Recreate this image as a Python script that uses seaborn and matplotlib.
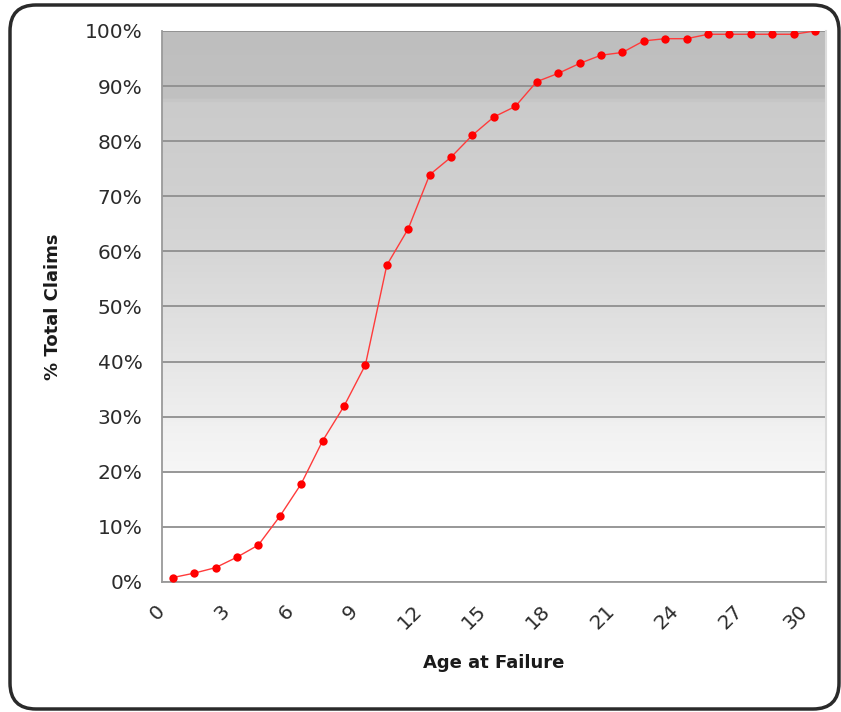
"""Cumulative share of warranty claims by age at failure."""
import matplotlib
matplotlib.use('Agg')
import matplotlib.pyplot as plt
import matplotlib.ticker as mticker
from matplotlib.colors import LinearSegmentedColormap
from matplotlib.patches import FancyBboxPatch
import numpy as np
import seaborn as sns

# data
AGES = list(range(1, 32))
CUM_SHARE = [0.008, 0.016, 0.026, 0.045, 0.067, 0.119, 0.178, 0.256, 0.319, 0.394,
             0.575, 0.641, 0.739, 0.771, 0.811, 0.844, 0.863, 0.908, 0.923, 0.941,
             0.956, 0.961, 0.982, 0.986, 0.986, 0.994, 0.994, 0.994, 0.994, 0.994,
             1.000]
X_TICKS = list(range(0, 31, 3))
Y_TICKS = [i / 10 for i in range(11)]

sns.set_theme(style='white')
plt.rcParams['font.family'] = ['DejaVu Sans']

fig = plt.figure(figsize=(8.41, 7.12), dpi=100)
ax = fig.add_axes([0.1926, 0.1826, 0.7893, 0.7739])

# grey-to-white banded background of the plot area
bg = LinearSegmentedColormap.from_list('bg', [
    (0.0, '#ffffff'), (0.199, '#ffffff'), (0.2, '#f6f6f6'), (0.27, '#f2f2f2'),
    (0.33, '#ececec'), (0.45, '#e2e2e2'), (0.6, '#d6d6d6'), (0.72, '#d0d0d0'),
    (0.87, '#cbcbcb'), (0.88, '#c1c1c1'), (1.0, '#bebebe')])
ax.imshow(np.linspace(0, 1, 400).reshape(-1, 1), cmap=bg, origin='lower',
          extent=[0, 31, 0, 1], aspect='auto', zorder=0, interpolation='nearest')

x_pos = [a - 0.5 for a in AGES]  # points sit mid-interval
sns.lineplot(x=x_pos, y=CUM_SHARE, ax=ax, color='#ff3b3b', lw=1.0, zorder=3)
sns.scatterplot(x=x_pos, y=CUM_SHARE, ax=ax, color='#ff0000', s=36,
                linewidth=0, zorder=4)

ax.set_xlim(0, 31)
ax.set_ylim(0, 1)
ax.set_xticks(X_TICKS)
ax.set_xticklabels([str(t) for t in X_TICKS], rotation=45, ha='right',
                   va='center', rotation_mode='anchor')
ax.xaxis.set_minor_locator(mticker.MultipleLocator(1))
ax.set_yticks(Y_TICKS)
ax.yaxis.set_major_formatter(mticker.PercentFormatter(1.0, decimals=0))

ax.yaxis.grid(True, color='#8f8f8f', lw=1.3, zorder=1)
ax.xaxis.grid(False)
ax.set_axisbelow(True)

ax.tick_params(axis='both', which='both', direction='out', length=6,
               width=1.2, color='#9a9a9a', labelsize=14.5, labelcolor='#2b2b2b')
ax.tick_params(axis='x', which='major', pad=13)
ax.tick_params(axis='y', pad=8)
ax.tick_params(axis='x', which='minor', labelbottom=False)

for side in ['left', 'bottom']:
    ax.spines[side].set_color('#9a9a9a')
    ax.spines[side].set_linewidth(1.3)
ax.spines['top'].set_visible(False)
ax.spines['right'].set_color('#dcdcdc')
ax.spines['right'].set_linewidth(1.5)

ax.set_xlabel('Age at Failure', fontsize=13, fontweight='bold', color='#1a1a1a', va='center')
ax.set_ylabel('% Total Claims', fontsize=13, fontweight='bold', color='#1a1a1a', va='center')
ax.xaxis.set_label_coords(0.5, -0.147)
ax.yaxis.set_label_coords(-0.164, 0.5)

# rounded frame around the whole chart (pixel coordinates)
frame = FancyBboxPatch((10, 3), 829, 704, boxstyle='round,pad=0,rounding_size=26',
                       transform=None, fill=False, edgecolor='#2a2a2a', lw=2.5,
                       clip_on=False)
fig.patches.append(frame)

fig.savefig('out.png', dpi=100)
plt.close(fig)
